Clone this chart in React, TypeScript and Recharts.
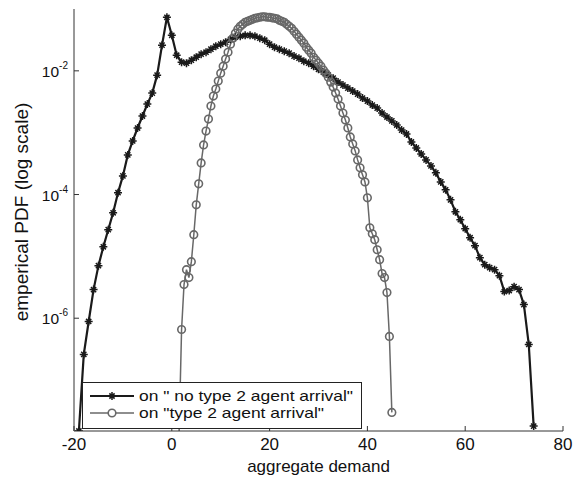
import { CartesianGrid, Line, LineChart, XAxis, YAxis } from "recharts";

// Densité empirique (échelle log) de la demande agrégée, deux scénarios.
const Y_MIN = 1.5e-8;
const Y_MAX = 0.1;

const xTicks = [-20, 0, 20, 40, 60, 80];
const yTicks = [1e-6, 1e-4, 1e-2];

// série noire : on " no type 2 agent arrival"
const noArrivalX = [
  -19, -18, -17, -16, -15, -14, -13, -12, -11, -10, -9, -8, -7, -6, -5, -4, -3, -2, -1, 0,
  1, 2, 3, 4, 5, 6, 7, 8, 9, 10, 11, 12, 13, 14, 15, 16, 17, 18, 19, 20,
  21, 22, 23, 24, 25, 26, 27, 28, 29, 30, 31, 32, 33, 34, 35, 36, 37, 38, 39, 40,
  41, 42, 43, 44, 45, 46, 47, 48, 49, 50, 51, 52, 53, 54, 55, 56, 57, 58, 59, 60,
  61, 62, 63, 64, 65, 66, 67, 68, 69, 70, 71, 72, 73, 74,
];
const noArrivalPdf = [
  1.5e-8, 2.6e-7, 8.85e-7, 2.9e-6, 7.08e-6, 1.43e-5, 2.7e-5, 5.07e-5, 1.07e-4, 2.0e-4,
  4.37e-4, 7.35e-4, 1.19e-3, 1.86e-3, 2.9e-3, 4.37e-3, 8.52e-3, 2.6e-2, 7.35e-2, 3.76e-2,
  1.79e-2, 1.38e-2, 1.33e-2, 1.49e-2, 1.66e-2, 1.86e-2, 2.0e-2, 2.24e-2, 2.5e-2, 2.7e-2,
  2.9e-2, 3.24e-2, 3.5e-2, 3.63e-2, 3.76e-2, 3.76e-2, 3.63e-2, 3.37e-2, 3.13e-2, 2.7e-2,
  2.41e-2, 2.24e-2, 2.08e-2, 1.93e-2, 1.73e-2, 1.6e-2, 1.43e-2, 1.33e-2, 1.19e-2, 1.06e-2,
  9.53e-3, 8.52e-3, 7.62e-3, 6.57e-3, 5.88e-3, 5.26e-3, 4.71e-3, 4.21e-3, 3.63e-3, 3.24e-3,
  2.8e-3, 2.5e-3, 2.08e-3, 1.79e-3, 1.55e-3, 1.33e-3, 1.1e-3, 9.53e-4, 7.08e-4, 5.66e-4,
  4.53e-4, 3.63e-4, 2.9e-4, 2.24e-4, 1.6e-4, 1.19e-4, 8.2e-5, 5.26e-5, 3.91e-5, 2.8e-5,
  2.0e-5, 1.49e-5, 9.53e-6, 7.35e-6, 6.57e-6, 6.1e-6, 4.88e-6, 2.7e-6, 2.8e-6, 3.24e-6,
  2.9e-6, 1.66e-6, 3.76e-7, 1.8e-8,
];

// série grise : on "type 2 agent arrival"
const arrivalX = [
  1.5, 2, 2.5, 3, 3.5, 4, 4.5, 5, 5.5, 6, 6.5, 7, 7.5, 8, 8.5, 9, 9.5, 10,
  10.5, 11, 11.5, 12, 12.5, 13, 13.5, 14, 14.5, 15, 15.5, 16, 16.5, 17, 17.5, 18,
  18.5, 19, 19.5, 20, 20.5, 21, 21.5, 22, 22.5, 23, 23.5, 24, 24.5, 25, 25.5, 26,
  26.5, 27, 27.5, 28, 28.5, 29, 29.5, 30, 30.5, 31, 31.5, 32, 32.5, 33, 33.5, 34,
  34.5, 35, 35.5, 36, 36.5, 37, 37.5, 38, 38.5, 39, 39.5, 40, 40.5, 41, 41.5, 42,
  42.5, 43, 43.5, 44, 44.5, 45,
];
const arrivalPdf = [
  1.5e-8, 6.57e-7, 3.5e-6, 6.1e-6, 4.54e-6, 8.22e-6, 2.24e-5, 6.82e-5, 1.49e-4, 3.24e-4,
  6.33e-4, 1.06e-3, 1.66e-3, 2.7e-3, 3.91e-3, 5.07e-3, 6.82e-3, 9.18e-3,
  1.19e-2, 1.55e-2, 2.0e-2, 2.7e-2, 3.37e-2, 4.06e-2, 4.71e-2, 5.26e-2, 5.66e-2, 6.1e-2,
  6.33e-2, 6.57e-2, 6.82e-2, 7.08e-2, 7.2e-2, 7.35e-2, 7.5e-2, 7.5e-2, 7.35e-2, 7.35e-2,
  7.2e-2, 7.08e-2, 6.95e-2, 6.57e-2, 6.33e-2, 6.1e-2, 5.66e-2, 5.26e-2, 4.88e-2, 4.37e-2,
  3.91e-2, 3.5e-2, 3.13e-2, 2.8e-2, 2.41e-2, 2.16e-2, 1.93e-2, 1.66e-2, 1.49e-2, 1.33e-2,
  1.19e-2, 1.03e-2, 9.18e-3, 7.91e-3, 6.57e-3, 5.46e-3, 4.37e-3, 3.5e-3, 2.7e-3, 2.08e-3,
  1.6e-3, 1.19e-3, 8.53e-4, 6.57e-4, 5.07e-4, 3.63e-4, 2.7e-4, 2.08e-4, 1.6e-4, 8.85e-5,
  2.9e-5, 2.32e-5, 1.86e-5, 1.28e-5, 8.85e-6, 5.26e-6, 4.54e-6, 2.6e-6, 5.07e-7, 3.0e-8,
];

const noArrivalData = noArrivalX.map((x, i) => ({ x, p: noArrivalPdf[i] }));
const arrivalData = arrivalX.map((x, i) => ({ x, p: arrivalPdf[i] }));

const FONT = "'Liberation Sans', Arial, Helvetica, sans-serif";
const INK = "#1a1a1a";
const GREY = "#686868";

function starPath(cx: number, cy: number, r: number) {
  const d = r * 0.65;
  return `M${cx - r},${cy}H${cx + r}M${cx},${cy - r}V${cy + r}M${cx - d},${cy - d}L${cx + d},${cy + d}M${cx - d},${cy + d}L${cx + d},${cy - d}`;
}

function StarDot(props: any) {
  const { cx, cy, index } = props;
  if (cx == null || cy == null) return <g key={`s-${index}`} />;
  return <path key={`s-${index}`} d={starPath(cx, cy, 4)} stroke={INK} strokeWidth={1.5} fill="none" />;
}

function RingDot(props: any) {
  const { cx, cy, index, payload } = props;
  if (cx == null || cy == null || payload.p <= Y_MIN) return <g key={`r-${index}`} />;
  return <circle key={`r-${index}`} cx={cx} cy={cy} r={3.8} stroke={GREY} strokeWidth={1.6} fill="none" />;
}

function XTick({ x, y, payload }: any) {
  return (
    <g>
      <line x1={x} x2={x} y1={y} y2={y - 5} stroke="#333" />
      <text x={x} y={y + 19} textAnchor="middle" fontSize={17} fill="#111" fontFamily={FONT}>
        {payload.value}
      </text>
    </g>
  );
}

function YTick({ x, y, payload }: any) {
  const exp = Math.round(Math.log10(payload.value));
  return (
    <g>
      <line x1={x} x2={x + 5} y1={y} y2={y} stroke="#333" />
      <text x={x - 6} y={y + 6} textAnchor="end" fontSize={15.5} fill="#111" fontFamily={FONT}>
        <tspan>10</tspan>
        <tspan dy={-8} fontSize={10}>{exp}</tspan>
      </text>
    </g>
  );
}

function YLabel({ viewBox }: any) {
  const cx = viewBox.x + 21;
  const cy = viewBox.y + viewBox.height / 2 - 8;
  return (
    <text x={cx} y={cy} transform={`rotate(-90 ${cx} ${cy})`} textAnchor="middle" dominantBaseline="central"
      fontSize={19} fill="#111" fontFamily={FONT}>
      emperical PDF (log scale)
    </text>
  );
}

function XLabel({ viewBox }: any) {
  return (
    <text x={viewBox.x + viewBox.width / 2} y={viewBox.y + 41} textAnchor="middle" fontSize={17}
      fill="#111" fontFamily={FONT}>
      aggregate demand
    </text>
  );
}

function LegendBox() {
  const rows = [
    { label: 'on " no type 2 agent arrival"', kind: "star", width: 214 },
    { label: 'on "type 2 agent arrival"', kind: "ring", width: 185 },
  ];
  return (
    <div style={{ position: "absolute", left: 82, top: 382, width: 280, height: 47, boxSizing: "border-box",
      border: "1px solid #222", background: "#fff" }}>
      <svg width={278} height={45} style={{ display: "block" }}>
        {rows.map((r, i) => {
          const cy = 13 + i * 17;
          return (
            <g key={r.label}>
              <line x1={7} x2={51} y1={cy} y2={cy} stroke={r.kind === "star" ? INK : GREY}
                strokeWidth={r.kind === "star" ? 2.2 : 1.5} />
              {r.kind === "star" ? (
                <path d={starPath(29, cy, 4)} stroke={INK} strokeWidth={1.5} />
              ) : (
                <circle cx={29} cy={cy} r={3.8} stroke={GREY} strokeWidth={1.6} fill="#fff" />
              )}
              <text x={56} y={cy + 5} fontSize={14.5} textLength={r.width} lengthAdjust="spacingAndGlyphs"
                fill="#111" fontFamily={FONT}>
                {r.label}
              </text>
            </g>
          );
        })}
      </svg>
    </div>
  );
}

export default function App() {
  return (
    <div style={{ position: "absolute", left: 0, top: 0, width: 574, height: 485, background: "#fff" }}>
      <LineChart width={574} height={485} margin={{ top: 9, right: 11, bottom: 0, left: 0 }}>
        <CartesianGrid stroke="none" />
        <XAxis type="number" dataKey="x" domain={[-20, 80]} ticks={xTicks} allowDataOverflow
          height={54} tickSize={0} tickMargin={0} tickLine={false} axisLine={{ stroke: "#333" }}
          tick={<XTick />} label={<XLabel />} />
        <YAxis type="number" dataKey="p" scale="log" domain={[Y_MIN, Y_MAX]} ticks={yTicks} allowDataOverflow
          width={74} tickSize={0} tickMargin={0} tickLine={false} axisLine={{ stroke: "#333" }}
          tick={<YTick />} label={<YLabel />} />
        <Line data={noArrivalData} dataKey="p" type="linear" stroke={INK} strokeWidth={2.2}
          dot={StarDot} activeDot={false} isAnimationActive={false} />
        <Line data={arrivalData} dataKey="p" type="linear" stroke={GREY} strokeWidth={1.5}
          dot={RingDot} activeDot={false} isAnimationActive={false} />
      </LineChart>
      <LegendBox />
    </div>
  );
}
